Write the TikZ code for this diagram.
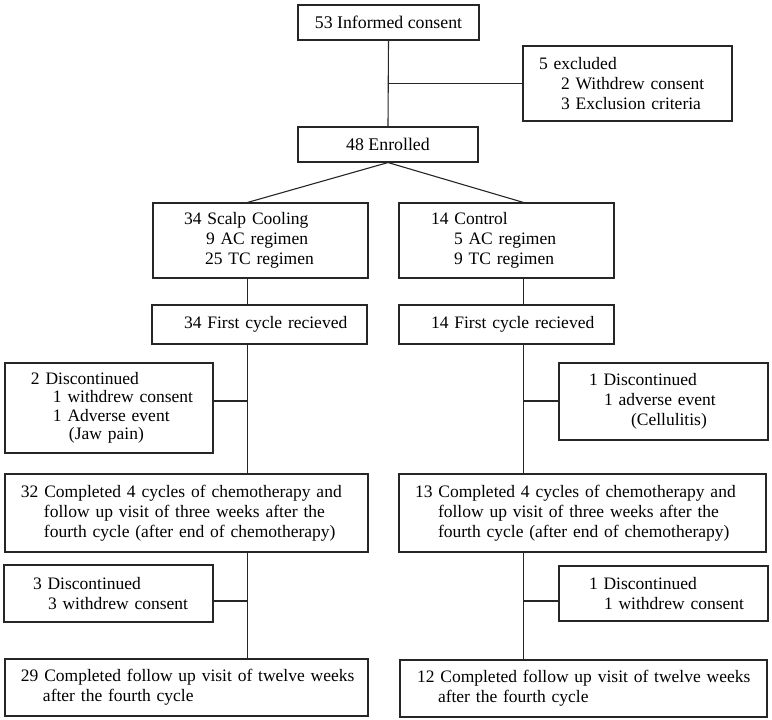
\documentclass[tikz,border=0pt]{standalone}
\usepackage{fontspec}
\setmainfont{Liberation Serif}
\begin{document}
\begin{tikzpicture}[x=1pt,y=-1pt,
  box/.style={draw=black!85, line width=1.1pt, rectangle, inner sep=0pt, align=left,
    font=\fontsize{17.5}{20}\selectfont},
  cbox/.style={draw=black!85, line width=1.1pt, rectangle, inner sep=0pt, align=center,
    font=\fontsize{17.8}{20}\selectfont},
  conn/.style={draw=black!85, line width=1.1pt}]
\useasboundingbox (0,0) rectangle (772,720);
\coordinate (lx) at (247.5,0);
\coordinate (rx) at (523.5,0);
\coordinate (j1) at (0,401);
\coordinate (j2) at (0,601);
% top
\node[cbox, minimum width=181pt, minimum height=35pt] (ic) at (388.5,22.5) {53 Informed consent};
\node[box, text width=209pt, minimum height=75pt] (ex) at (627.5,83.5)
  {\leftskip=16pt 5 excluded\\\hspace*{22pt}2 Withdrew consent\\\hspace*{22pt}3 Exclusion criteria\par};
\node[cbox, minimum width=180pt, minimum height=35pt] (en) at (388,144.5) {48 Enrolled};
% arms
\node[box, text width=215pt, minimum height=75pt] (sc) at (260.5,240.5)
  {\leftskip=31pt 34 Scalp Cooling\\\hspace*{22pt}9 AC regimen\\\hspace*{21pt}25 TC regimen\par};
\node[box, text width=215pt, minimum height=75pt] (co) at (506.5,240.5)
  {\leftskip=32pt 14 Control\\\hspace*{23pt}5 AC regimen\\\hspace*{23pt}9 TC regimen\par};
\node[box, text width=215pt, minimum height=39pt] (f1) at (259.5,324.5)
  {\leftskip=32pt 34 First cycle recieved\par};
\node[box, text width=215pt, minimum height=39pt] (f2) at (506.5,324.5)
  {\leftskip=32pt 14 First cycle recieved\par};
% first discontinuations
\node[box, text width=208pt, minimum height=90pt,
  font=\fontsize{17.5}{18.5}\selectfont] (d1) at (109,408)
  {\leftskip=26pt 2 Discontinued\\\hspace*{22pt}1 withdrew consent\\\hspace*{22pt}1 Adverse event\\\hspace*{38pt}(Jaw pain)\par};
\node[box, text width=209pt, minimum height=77pt] (d2) at (663.5,401.5)
  {\leftskip=30pt 1 Discontinued\\\hspace*{15pt}1 adverse event\\\hspace*{42pt}(Cellulitis)\par};
% completed
\node[box, text width=363pt, minimum height=78pt] (c1) at (186.5,513)
  {\leftskip=16pt 32 Completed 4 cycles of chemotherapy and\\\hspace*{23pt}follow up visit of three weeks after the\\\hspace*{23pt}fourth cycle (after end of chemotherapy)\par};
\node[box, text width=367pt, minimum height=78pt] (c2) at (582.5,513)
  {\leftskip=16pt 13 Completed 4 cycles of chemotherapy and\\\hspace*{23pt}follow up visit of three weeks after the\\\hspace*{23pt}fourth cycle (after end of chemotherapy)\par};
% second discontinuations
\node[box, text width=209pt, minimum height=57pt] (e1) at (108.5,593.5)
  {\leftskip=29pt 3 Discontinued\\\hspace*{15pt}3 withdrew consent\par};
\node[box, text width=209pt, minimum height=55pt] (e2) at (663.5,593.5)
  {\leftskip=30pt 1 Discontinued\\\hspace*{15pt}1 withdrew consent\par};
% final
\node[box, text width=363pt, minimum height=57pt] (g1) at (186.5,687.5)
  {\leftskip=16pt 29 Completed follow up visit of twelve weeks\\\hspace*{22pt}after the fourth cycle\par};
\node[box, text width=367pt, minimum height=57pt] (g2) at (583.5,688.5)
  {\leftskip=17pt 12 Completed follow up visit of twelve weeks\\\hspace*{21pt}after the fourth cycle\par};
% connectors
\draw[conn] (ic.south) -- (en.north);
\draw[conn] (ic.south |- ex.west) -- (ex.west);
\draw[conn] (en.south) -- (lx |- sc.north);
\draw[conn] (en.south) -- (rx |- co.north);
\draw[conn] (lx |- sc.south) -- (lx |- f1.north);
\draw[conn] (rx |- co.south) -- (rx |- f2.north);
\draw[conn] (lx |- f1.south) -- (lx |- c1.north);
\draw[conn] (rx |- f2.south) -- (rx |- c2.north);
\draw[conn] (d1.east |- j1) -- (lx |- j1);
\draw[conn] (d2.west |- j1) -- (rx |- j1);
\draw[conn] (lx |- c1.south) -- (lx |- g1.north);
\draw[conn] (rx |- c2.south) -- (rx |- g2.north);
\draw[conn] (e1.east |- j2) -- (lx |- j2);
\draw[conn] (e2.west |- j2) -- (rx |- j2);
\end{tikzpicture}
\end{document}
